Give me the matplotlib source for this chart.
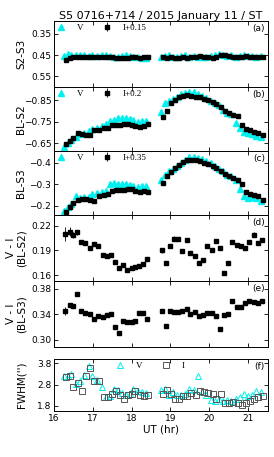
import matplotlib
matplotlib.use("Agg")
import matplotlib.pyplot as plt
import numpy as np

# ---- data ----
ut = [16.29, 16.40, 16.48, 16.60, 16.69, 16.80, 16.92, 17.02, 17.13, 17.26, 17.37,
      17.48, 17.58, 17.67, 17.78, 17.88, 18.00, 18.08, 18.19, 18.30, 18.41,
      18.78, 18.90, 19.00, 19.09, 19.20, 19.31, 19.42, 19.52, 19.63, 19.74, 19.85,
      19.95, 20.07, 20.17, 20.28, 20.39, 20.50, 20.60, 20.72, 20.82, 20.93, 21.03,
      21.15, 21.25, 21.36]

v_s2s3 = [0.455, 0.447, 0.452, 0.450, 0.452, 0.448, 0.453, 0.451, 0.455, 0.452, 0.450,
          0.455, 0.458, 0.460, 0.456, 0.452, 0.455, 0.458, 0.460, 0.462, 0.466,
          0.458, 0.455, 0.452, 0.460, 0.458, 0.455, 0.452, 0.457, 0.455, 0.458, 0.461,
          0.457, 0.455, 0.450, 0.447, 0.452, 0.455, 0.451, 0.458, 0.455, 0.452, 0.456,
          0.455, 0.458, 0.455]
i_s2s3 = [0.472, 0.462, 0.458, 0.460, 0.457, 0.458, 0.461, 0.460, 0.459, 0.461, 0.458,
          0.457, 0.462, 0.466, 0.465, 0.463, 0.460, 0.458, 0.463, 0.461, 0.458,
          0.460, 0.463, 0.458, 0.465, 0.462, 0.458, 0.463, 0.460, 0.458, 0.456, 0.460,
          0.458, 0.462, 0.457, 0.452, 0.448, 0.455, 0.458, 0.460, 0.457, 0.455, 0.460,
          0.458, 0.458, 0.457]

v_bls2 = [-0.635, -0.650, -0.665, -0.680, -0.695, -0.700, -0.705, -0.715, -0.720, -0.728, -0.738,
          -0.752, -0.760, -0.765, -0.766, -0.768, -0.762, -0.757, -0.748, -0.752, -0.755,
          -0.796, -0.835, -0.847, -0.855, -0.865, -0.877, -0.883, -0.888, -0.886, -0.880, -0.868,
          -0.858, -0.847, -0.835, -0.825, -0.805, -0.792, -0.785, -0.745, -0.719, -0.704, -0.697,
          -0.693, -0.685, -0.681]
i_bls2 = [-0.645, -0.660, -0.674, -0.697, -0.695, -0.690, -0.689, -0.712, -0.712, -0.719, -0.722,
          -0.735, -0.736, -0.734, -0.739, -0.738, -0.735, -0.730, -0.724, -0.730, -0.739,
          -0.770, -0.800, -0.835, -0.850, -0.862, -0.870, -0.873, -0.870, -0.865, -0.862, -0.855,
          -0.850, -0.840, -0.830, -0.820, -0.800, -0.790, -0.781, -0.775, -0.735, -0.715, -0.710,
          -0.704, -0.698, -0.688]

v_bls3 = [-0.174, -0.194, -0.210, -0.244, -0.238, -0.240, -0.240, -0.253, -0.258, -0.262, -0.269,
          -0.300, -0.306, -0.300, -0.303, -0.300, -0.296, -0.291, -0.288, -0.291, -0.290,
          -0.320, -0.345, -0.360, -0.372, -0.385, -0.400, -0.415, -0.425, -0.427, -0.424, -0.418,
          -0.410, -0.398, -0.385, -0.372, -0.360, -0.345, -0.340, -0.320, -0.280, -0.245, -0.238,
          -0.240, -0.238, -0.220]
i_bls3 = [-0.171, -0.195, -0.215, -0.228, -0.233, -0.230, -0.226, -0.222, -0.245, -0.249, -0.255,
          -0.269, -0.275, -0.272, -0.275, -0.280, -0.276, -0.270, -0.264, -0.268, -0.266,
          -0.306, -0.337, -0.355, -0.375, -0.390, -0.405, -0.412, -0.415, -0.412, -0.408, -0.400,
          -0.395, -0.385, -0.375, -0.362, -0.350, -0.340, -0.330, -0.320, -0.300, -0.262, -0.255,
          -0.249, -0.245, -0.229]

vi_s2 = [0.210, 0.213, 0.209, 0.212, 0.200, 0.199, 0.193, 0.198, 0.196, 0.184, 0.183,
         0.184, 0.176, 0.169, 0.173, 0.166, 0.169, 0.170, 0.171, 0.174, 0.180,
         0.190, 0.175, 0.196, 0.204, 0.204, 0.189, 0.203, 0.187, 0.183, 0.175, 0.178,
         0.196, 0.190, 0.201, 0.193, 0.163, 0.175, 0.200, 0.197, 0.196, 0.193, 0.200,
         0.209, 0.199, 0.203]
vi_s2_err = [0.008, 0.006, 0.004, 0.003, 0.002, 0.002, 0.002, 0.002, 0.002, 0.002, 0.002,
             0.002, 0.002, 0.002, 0.002, 0.002, 0.002, 0.002, 0.002, 0.002, 0.002,
             0.003, 0.002, 0.002, 0.003, 0.002, 0.002, 0.002, 0.002, 0.002, 0.002, 0.002,
             0.002, 0.002, 0.002, 0.002, 0.002, 0.002, 0.002, 0.002, 0.002, 0.002, 0.002,
             0.003, 0.002, 0.002]

vi_s3 = [0.345, 0.354, 0.352, 0.372, 0.345, 0.341, 0.340, 0.332, 0.337, 0.336, 0.338,
         0.340, 0.320, 0.311, 0.329, 0.327, 0.327, 0.329, 0.341, 0.342, 0.332,
         0.345, 0.322, 0.345, 0.344, 0.344, 0.345, 0.348, 0.340, 0.344, 0.337, 0.338,
         0.342, 0.341, 0.337, 0.316, 0.339, 0.340, 0.361, 0.351, 0.351, 0.357, 0.360,
         0.359, 0.357, 0.360]
vi_s3_err = [0.006, 0.003, 0.002, 0.002, 0.002, 0.002, 0.002, 0.002, 0.002, 0.002, 0.002,
             0.002, 0.002, 0.002, 0.002, 0.002, 0.002, 0.002, 0.002, 0.002, 0.002,
             0.002, 0.002, 0.002, 0.002, 0.002, 0.002, 0.002, 0.002, 0.002, 0.002, 0.002,
             0.002, 0.002, 0.002, 0.002, 0.002, 0.002, 0.002, 0.002, 0.002, 0.002, 0.002,
             0.002, 0.002, 0.002]

fwhm_v = [3.20, 3.22, 3.30, 2.85, 2.95, 3.25, 3.65, 3.22, 3.00, 2.67, 2.23,
          2.25, 2.60, 2.55, 2.40, 2.30, 2.35, 2.60, 2.50, 2.45, 2.40,
          2.55, 2.60, 2.30, 2.45, 2.30, 2.30, 2.35, 2.60, 2.55, 3.22, 2.45,
          2.30, 2.10, 2.05, 2.15, 2.05, 2.10, 2.05, 2.15, 2.20, 2.35, 2.25,
          2.30, 2.50, 2.45]
fwhm_i = [3.14, 3.20, 2.67, 2.89, 2.50, 3.20, 3.60, 2.97, 2.95, 2.20, 2.20,
          2.36, 2.51, 2.30, 2.11, 2.30, 2.35, 2.51, 2.33, 2.27, 2.30,
          2.36, 2.55, 2.36, 2.11, 2.11, 2.25, 2.25, 2.39, 2.31, 2.50, 2.45,
          2.40, 2.34, 2.12, 2.34, 1.92, 1.92, 2.00, 1.96, 1.84, 1.96, 2.05,
          2.12, 2.20, 2.28]

title = "S5 0716+714 / 2015 January 11 / ST"

# ---- figure ----
W, H = 274, 457
fig = plt.figure(figsize=(W / 100, H / 100), dpi=100)
L, R = 54, 268


def make_ax(top, bottom):
    return fig.add_axes([L / W, (H - bottom) / H, (R - L) / W, (bottom - top) / H])


ut_a = np.array(ut)
ut_v = ut_a - 0.03
ut_i = ut_a + 0.02

CY = "#00f0f0"
tick_fs = 6.5
lab_fs = 7.5
serif = {"family": "Liberation Serif", "size": 6.5}


def style(ax, lab, ylabel):
    ax.set_xlim(16, 21.52)
    ax.set_xticks([16, 17, 18, 19, 20, 21])
    ax.tick_params(direction="in", top=True, right=True, labelsize=tick_fs,
                   length=3, width=0.6, pad=2)
    for s in ax.spines.values():
        s.set_linewidth(0.7)
    ax.text(0.985, 0.95, lab, transform=ax.transAxes, ha="right", va="top", fontsize=6.5)
    ax.set_ylabel(ylabel, fontsize=lab_fs, labelpad=2, linespacing=1.0)


def mag_panel(ax, v, i, ilab, ylim, ticks, lab, ylabel):
    ax.plot(ut_v, v, ls="none", marker="^", ms=4, color=CY, mec=CY, label="V")
    ax.errorbar(ut_i, i, yerr=0.002, fmt="s", ms=3.5, color="black", ecolor="black",
                elinewidth=0.6, capsize=0, label=ilab)
    ax.set_ylim(*ylim)
    ax.set_yticks(ticks)
    style(ax, lab, ylabel)
    ax.tick_params(labelbottom=False)
    ax.legend(loc="upper left", ncol=2, frameon=False, prop=serif, handlelength=1.0,
              handletextpad=1.2, columnspacing=2.2, borderaxespad=0.1, borderpad=0.2)


ax_a = make_ax(21, 87)
mag_panel(ax_a, v_s2s3, i_s2s3, "I+0.15", (0.60, 0.29), [0.35, 0.45, 0.55], "(a)", "S2-S3")
ax_a.set_yticklabels(["0.35", "0.45", "0.55"])
ax_a.set_title(title, fontsize=8, pad=1.5)

ax_b = make_ax(87, 151)
mag_panel(ax_b, v_bls2, i_bls2, "I+0.2", (-0.615, -0.91), [-0.85, -0.75, -0.65], "(b)", "BL-S2")

ax_c = make_ax(151, 215)
mag_panel(ax_c, v_bls3, i_bls3, "I+0.35", (-0.157, -0.455), [-0.4, -0.3, -0.2], "(c)", "BL-S3")

ax_d = make_ax(215, 281)
ax_d.errorbar(ut_a, vi_s2, yerr=vi_s2_err, fmt="s", ms=3.5, color="black",
              elinewidth=0.6, capsize=0)
ax_d.set_ylim(0.153, 0.233)
ax_d.set_yticks([0.16, 0.19, 0.22])
style(ax_d, "(d)", "V - I\n(BL-S2)")
ax_d.tick_params(labelbottom=False)

ax_e = make_ax(281, 346.5)
ax_e.errorbar(ut_a, vi_s3, yerr=vi_s3_err, fmt="s", ms=3.5, color="black",
              elinewidth=0.6, capsize=0)
ax_e.set_ylim(0.289, 0.392)
ax_e.set_yticks([0.30, 0.34, 0.38])
style(ax_e, "(e)", "V - I\n(BL-S3)")
ax_e.tick_params(labelbottom=False)

ax_f = make_ax(359, 411)
ax_f.plot(ut_v, fwhm_v, ls="none", marker="^", ms=4.5, mfc="none", mec=CY, mew=0.7, label="V")
ax_f.plot(ut_i, fwhm_i, ls="none", marker="s", ms=4.5, mfc="none", mec="#555555", mew=0.7,
          label="I")
ax_f.set_ylim(1.565, 4.0)
ax_f.set_yticks([1.8, 2.8, 3.8])
style(ax_f, "(f)", "FWHM('')")
ax_f.legend(loc="upper center", ncol=2, frameon=False, prop=serif, handlelength=1.0,
            handletextpad=1.2, columnspacing=2.2, borderaxespad=0.1, borderpad=0.2,
            bbox_to_anchor=(0.45, 1.0))
ax_f.set_xlabel("UT (hr)", fontsize=lab_fs, labelpad=1)

for ax in (ax_a, ax_b, ax_c, ax_d, ax_e, ax_f):
    ax.yaxis.set_label_coords(-0.13, 0.5)

fig.savefig("out.png", dpi=100)
